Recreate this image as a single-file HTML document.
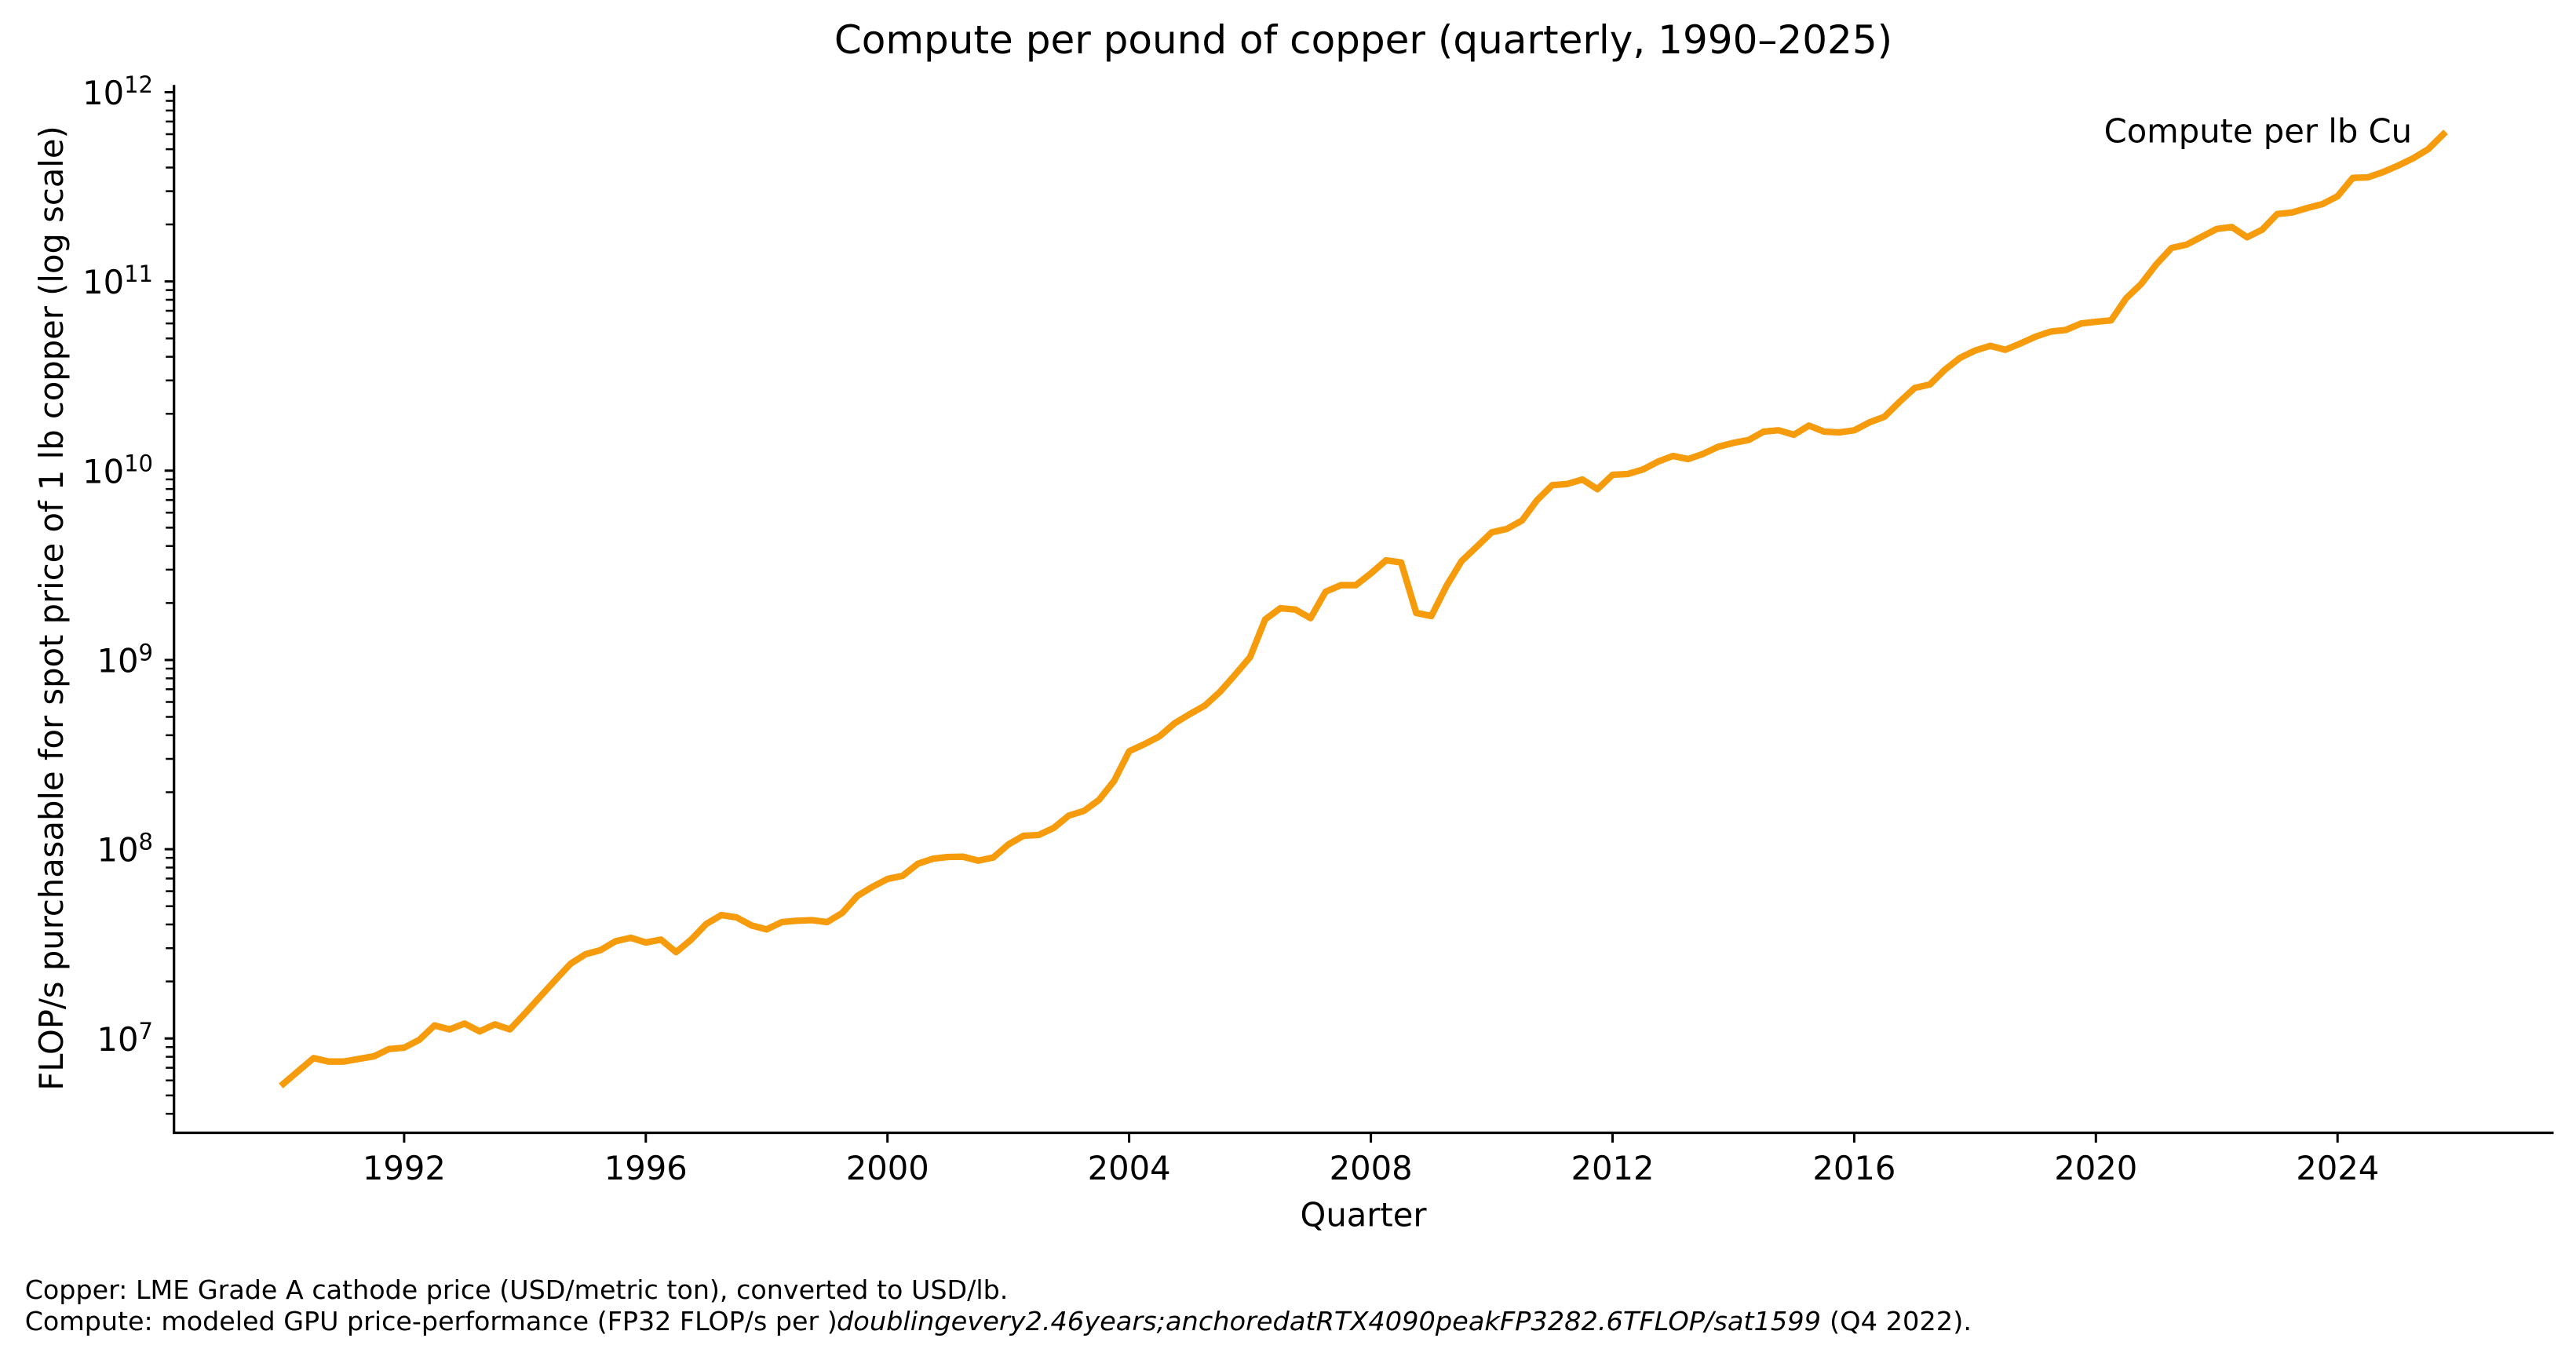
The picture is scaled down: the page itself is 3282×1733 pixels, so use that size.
<!DOCTYPE html>
<html>
<head>
<meta charset="utf-8">
<style>
  html, body { margin: 0; padding: 0; background: #ffffff; }
  svg { display: block; }
  text { font-family: "DejaVu Sans", "Liberation Sans", sans-serif; fill: #000; }
</style>
</head>
<body>
<svg width="3282" height="1733" viewBox="0 0 3282 1733" xmlns="http://www.w3.org/2000/svg">
  <rect x="0" y="0" width="3282" height="1733" fill="#ffffff"/>

  <!-- Title -->
  <text x="1737" y="68" font-size="50" text-anchor="middle">Compute per pound of copper (quarterly, 1990–2025)</text>

  <!-- Data line -->
  <polyline fill="none" stroke="#f59b0c" stroke-width="8.3" stroke-linejoin="round" stroke-linecap="square"
    points="361.0,1381 380.2,1364.7 399.5,1348.3 418.7,1352.7 438.0,1352.7 457.2,1349.3 476.5,1346 495.7,1336.7 515.0,1335 534.2,1325 553.5,1306.7 572.7,1311.7 591.9,1304.3 611.2,1314.3 630.4,1305.3 649.7,1311.7 668.9,1291.3 688.2,1270 707.4,1249 726.7,1228.3 745.9,1216 765.1,1210.7 784.4,1199.3 803.6,1195 822.9,1201 842.1,1197.3 861.4,1213.3 880.6,1197.3 899.9,1177.3 919.1,1166 938.4,1169 957.6,1179.3 976.8,1184.3 996.1,1175 1015.3,1173.3 1034.6,1172.5 1053.8,1175 1073.1,1163.3 1092.3,1141.7 1111.6,1130 1130.8,1120 1150.0,1116 1169.3,1100.7 1188.5,1094.3 1207.8,1092 1227.0,1091.7 1246.3,1096.7 1265.5,1092.7 1284.8,1076 1304.0,1065 1323.3,1064 1342.5,1055 1361.7,1039.3 1381.0,1033.3 1400.2,1019.3 1419.5,995 1438.7,957.3 1458.0,948.3 1477.2,938.3 1496.5,921.7 1515.7,910 1534.9,899.3 1554.2,881.7 1573.4,860 1592.7,837.3 1611.9,789.3 1631.2,775 1650.4,776.7 1669.7,787.7 1688.9,754 1708.2,745.7 1727.4,745.7 1746.6,730.7 1765.9,714 1785.1,716.7 1804.4,781 1823.6,785 1842.9,746.7 1862.1,715 1881.4,696.7 1900.6,678.3 1919.8,674 1939.1,663.3 1958.3,637.3 1977.6,618.3 1996.8,616.7 2016.1,611 2035.3,623.3 2054.6,605 2073.8,604 2093.1,598.3 2112.3,588.3 2131.5,581 2150.8,585 2170.0,578.3 2189.3,569.3 2208.5,564.3 2227.8,560.7 2247.0,550 2266.3,548.3 2285.5,554 2304.7,542.3 2324.0,550 2343.2,551 2362.5,548.3 2381.7,538.3 2401.0,531 2420.2,512 2439.5,494.3 2458.7,490 2478.0,471 2497.2,456 2516.4,446.7 2535.7,440.7 2554.9,445.7 2574.2,437.7 2593.4,429 2612.7,422.5 2631.9,420.5 2651.2,412.3 2670.4,410 2689.6,408.3 2708.9,380 2728.1,361.7 2747.4,336.7 2766.6,316 2785.9,311.7 2805.1,301.7 2824.4,291.7 2843.6,289.3 2862.9,302.3 2882.1,292.7 2901.3,272.7 2920.6,270.7 2939.8,265 2959.1,260 2978.3,250 2997.6,226.7 3016.8,226 3036.1,219.3 3055.3,211 3074.5,201.7 3093.8,190 3113.0,171"/>

  <!-- Annotation -->
  <text x="3073" y="181.7" font-size="41.67" text-anchor="end">Compute per lb Cu</text>

  <!-- Spines -->
  <line x1="221.7" y1="108.3" x2="221.7" y2="1445" stroke="#000" stroke-width="3.2"/>
  <line x1="220.1" y1="1443.5" x2="3253.5" y2="1443.5" stroke="#000" stroke-width="3.2"/>

  <!-- Y major ticks -->
  <path stroke="#000" stroke-width="3" fill="none"
    d="M209.7,117.5H221.7 M209.7,358.65H221.7 M209.7,599.8H221.7 M209.7,840.95H221.7 M209.7,1082.1H221.7 M209.7,1323.25H221.7"/>
  <!-- Y minor ticks -->
  <path stroke="#000" stroke-width="2.5" fill="none"
    d="M211.2,286.06H221.7 M211.2,243.59H221.7 M211.2,213.46H221.7 M211.2,190.1H221.7 M211.2,171.0H221.7 M211.2,154.85H221.7 M211.2,140.87H221.7 M211.2,128.53H221.7
       M211.2,527.21H221.7 M211.2,484.74H221.7 M211.2,454.61H221.7 M211.2,431.25H221.7 M211.2,412.15H221.7 M211.2,396.0H221.7 M211.2,382.02H221.7 M211.2,369.68H221.7
       M211.2,768.36H221.7 M211.2,725.89H221.7 M211.2,695.76H221.7 M211.2,672.4H221.7 M211.2,653.3H221.7 M211.2,637.15H221.7 M211.2,623.17H221.7 M211.2,610.83H221.7
       M211.2,1009.51H221.7 M211.2,967.04H221.7 M211.2,936.91H221.7 M211.2,913.55H221.7 M211.2,894.45H221.7 M211.2,878.3H221.7 M211.2,864.32H221.7 M211.2,851.98H221.7
       M211.2,1250.66H221.7 M211.2,1208.19H221.7 M211.2,1178.06H221.7 M211.2,1154.7H221.7 M211.2,1135.6H221.7 M211.2,1119.45H221.7 M211.2,1105.47H221.7 M211.2,1093.13H221.7
       M211.2,1419.21H221.7 M211.2,1395.85H221.7 M211.2,1376.75H221.7 M211.2,1360.6H221.7 M211.2,1346.62H221.7 M211.2,1334.28H221.7"/>

  <!-- Y tick labels -->
  <g font-size="41.67" text-anchor="end">
    <text x="195" y="133">10<tspan font-size="29" dy="-15">12</tspan></text>
    <text x="195" y="374.2">10<tspan font-size="29" dy="-15">11</tspan></text>
    <text x="195" y="615.3">10<tspan font-size="29" dy="-15">10</tspan></text>
    <text x="195" y="856.5">10<tspan font-size="29" dy="-15">9</tspan></text>
    <text x="195" y="1097.6">10<tspan font-size="29" dy="-15">8</tspan></text>
    <text x="195" y="1338.8">10<tspan font-size="29" dy="-15">7</tspan></text>
  </g>

  <!-- X ticks -->
  <path stroke="#000" stroke-width="3" fill="none"
    d="M514.9,1443.5V1456 M822.8,1443.5V1456 M1130.7,1443.5V1456 M1438.6,1443.5V1456 M1746.6,1443.5V1456 M2054.5,1443.5V1456 M2362.4,1443.5V1456 M2670.3,1443.5V1456 M2978.2,1443.5V1456"/>

  <!-- X tick labels -->
  <g font-size="41.67" text-anchor="middle">
    <text x="514.9" y="1503">1992</text>
    <text x="822.8" y="1503">1996</text>
    <text x="1130.7" y="1503">2000</text>
    <text x="1438.6" y="1503">2004</text>
    <text x="1746.6" y="1503">2008</text>
    <text x="2054.5" y="1503">2012</text>
    <text x="2362.4" y="1503">2016</text>
    <text x="2670.3" y="1503">2020</text>
    <text x="2978.2" y="1503">2024</text>
  </g>

  <!-- Axis labels -->
  <text x="1737" y="1562.7" font-size="41.67" text-anchor="middle">Quarter</text>
  <text transform="translate(80,775) rotate(-90)" font-size="41.67" text-anchor="middle">FLOP/s purchasable for spot price of 1 lb copper (log scale)</text>

  <!-- Footnote -->
  <text x="31.7" y="1655" font-size="33.3">Copper: LME Grade A cathode price (USD/metric ton), converted to USD/lb.</text>
  <text x="31.7" y="1695" font-size="33.3">Compute: modeled GPU price-performance (FP32 FLOP/s per )</text>
  <text x="1066" y="1695" font-size="33.3" font-style="italic" textLength="1254" lengthAdjust="spacingAndGlyphs">doublingevery2.46years;anchoredatRTX4090peakFP3282.6TFLOP/sat1599</text>
  <text x="2331" y="1695" font-size="33.3" textLength="181" lengthAdjust="spacingAndGlyphs">(Q4 2022).</text>
</svg>
</body>
</html>
